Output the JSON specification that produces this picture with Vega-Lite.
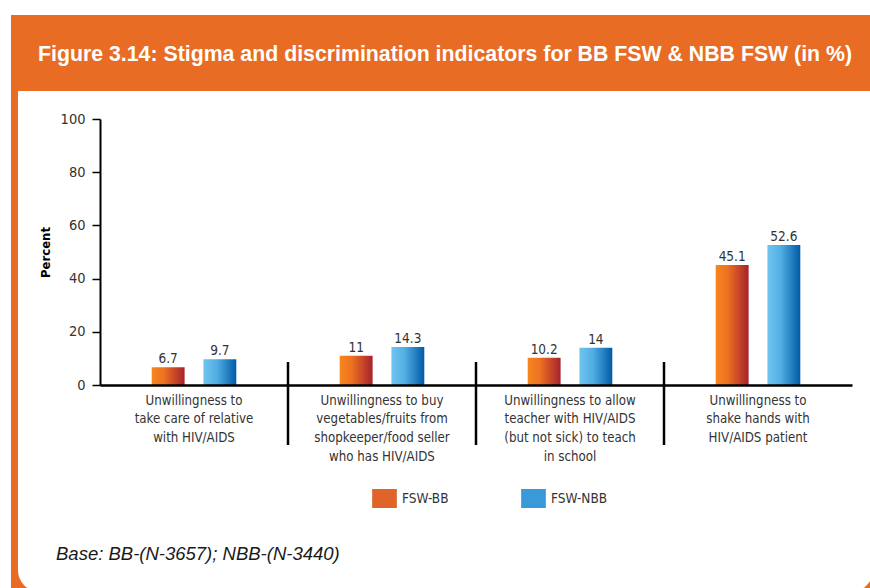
{
  "$schema": "https://vega.github.io/schema/vega-lite/v6.json",
  "width": 752,
  "height": 266,
  "autosize": {"type": "none"},
  "padding": {"left": 100, "top": 119, "right": 18, "bottom": 203},
  "background": "white",
  "config": {
    "view": {"stroke": null},
    "axis": {"zindex": 1},
    "font": "DejaVu Sans Condensed"
  },
  "datasets": {
    "bars": [
      {"category": "Unwillingness to|take care of relative|with HIV/AIDS", "series": "FSW-BB", "value": 6.7},
      {"category": "Unwillingness to|take care of relative|with HIV/AIDS", "series": "FSW-NBB", "value": 9.7},
      {"category": "Unwillingness to buy|vegetables/fruits from|shopkeeper/food seller|who has HIV/AIDS", "series": "FSW-BB", "value": 11},
      {"category": "Unwillingness to buy|vegetables/fruits from|shopkeeper/food seller|who has HIV/AIDS", "series": "FSW-NBB", "value": 14.3},
      {"category": "Unwillingness to allow|teacher with HIV/AIDS|(but not sick) to teach|in school", "series": "FSW-BB", "value": 10.2},
      {"category": "Unwillingness to allow|teacher with HIV/AIDS|(but not sick) to teach|in school", "series": "FSW-NBB", "value": 14},
      {"category": "Unwillingness to|shake hands with|HIV/AIDS patient", "series": "FSW-BB", "value": 45.1},
      {"category": "Unwillingness to|shake hands with|HIV/AIDS patient", "series": "FSW-NBB", "value": 52.6}
    ],
    "texts": [
      {"title": "Figure 3.14: Stigma and discrimination indicators for BB FSW & NBB FSW (in %)", "note": "Base: BB-(N-3657); NBB-(N-3440)"}
    ]
  },
  "layer": [
    {
      "data": {"name": "texts"},
      "layer": [
        {
          "mark": {"type": "rect", "fill": "#E86C24"},
          "encoding": {
            "x": {"datum": -11.835, "type": "quantitative", "scale": {"domain": [0, 100], "zero": false, "nice": false}, "axis": null},
            "x2": {"datum": 105},
            "y": {"datum": 139.1, "type": "quantitative", "scale": {"domain": [0, 100], "zero": false, "nice": false}, "axis": null},
            "y2": {"datum": 110.53}
          }
        },
        {
          "mark": {"type": "rect", "fill": "#E86C24"},
          "encoding": {
            "x": {"datum": -11.835, "type": "quantitative"},
            "x2": {"datum": -10.904},
            "y": {"datum": 110.6, "type": "quantitative"},
            "y2": {"datum": -85}
          }
        },
        {
          "mark": {"type": "rect", "fill": "#E86C24"},
          "encoding": {
            "x": {"datum": -11.835, "type": "quantitative"},
            "x2": {"datum": -7.314},
            "y": {"datum": -65.79, "type": "quantitative"},
            "y2": {"datum": -85}
          }
        },
        {
          "mark": {"type": "rect", "fill": "#E86C24"},
          "encoding": {
            "x": {"datum": 98.4, "type": "quantitative"},
            "x2": {"datum": 105},
            "y": {"datum": -65.79, "type": "quantitative"},
            "y2": {"datum": -85}
          }
        },
        {
          "mark": {"type": "rect", "fill": "white", "cornerRadiusBottomLeft": 22},
          "encoding": {
            "x": {"datum": -10.904, "type": "quantitative"},
            "x2": {"datum": -3.989},
            "y": {"datum": -58.27, "type": "quantitative"},
            "y2": {"datum": -77.82}
          }
        },
        {
          "mark": {"type": "rect", "fill": "white", "cornerRadiusBottomRight": 22},
          "encoding": {
            "x": {"datum": 93.09, "type": "quantitative"},
            "x2": {"datum": 102.79},
            "y": {"datum": -58.27, "type": "quantitative"},
            "y2": {"datum": -77.82}
          }
        },
        {
          "mark": {"type": "text", "align": "left", "baseline": "alphabetic", "font": "Liberation Sans", "fontWeight": "bold", "fontSize": 21.3, "color": "white"},
          "encoding": {
            "x": {"datum": -8.245, "type": "quantitative"},
            "y": {"datum": 121.9, "type": "quantitative"},
            "text": {"field": "title"}
          }
        },
        {
          "mark": {"type": "text", "align": "left", "baseline": "alphabetic", "font": "Liberation Sans", "fontStyle": "italic", "fontSize": 18.5, "color": "#1a1a1a"},
          "encoding": {
            "x": {"datum": -5.851, "type": "quantitative"},
            "y": {"datum": -65.79, "type": "quantitative"},
            "text": {"field": "note"}
          }
        }
      ]
    },
    {
      "data": {"name": "bars"},
      "layer": [
        {
          "mark": {"type": "bar", "opacity": 0},
          "encoding": {
            "x": {
              "field": "category", "type": "nominal", "sort": null,
              "scale": {"paddingInner": 0, "paddingOuter": 0},
              "axis": {
                "orient": "bottom", "zindex": 1,
                "title": null, "labelExpr": "split(datum.label, '|')", "labelAngle": 0,
                "labelFont": "DejaVu Sans Condensed", "labelFontSize": 13.2, "labelColor": "#333333",
                "labelLineHeight": 18.7, "labelPadding": 9, "labelLimit": 0, "ticks": false,
                "domainColor": "#000000", "domainWidth": 2.5, "labelBaseline": "top"
              }
            },
            "xOffset": {"field": "series", "type": "nominal", "sort": null, "scale": {"domain": ["FSW-BB", "FSW-NBB"], "paddingInner": 0.3636, "paddingOuter": 2.03}},
            "y": {
              "field": "value", "type": "quantitative",
              "scale": {"domain": [0, 100], "nice": false},
              "axis": {
                "orient": "left", "zindex": 1,
                "values": [0, 20, 40, 60, 80, 100], "title": "Percent",
                "titleFont": "DejaVu Sans Condensed", "titleFontWeight": "bold", "titleFontSize": 13, "titleColor": "#000000", "titlePadding": 8,
                "labelFont": "DejaVu Sans Condensed", "labelFontSize": 14.5, "labelColor": "#333333", "labelPadding": 7,
                "tickSize": 8, "tickColor": "#000000", "tickWidth": 1.5, "domainColor": "#000000", "domainWidth": 2, "grid": false
              }
            },
            "color": {
              "field": "series", "type": "nominal",
              "scale": {"domain": ["FSW-BB", "FSW-NBB"], "range": ["#E0642A", "#3A9AD9"]},
              "legend": {
                "orient": "none", "legendX": 275, "legendY": 370, "direction": "horizontal", "title": null,
                "symbolType": "M-1.3,-1L1.3,-1L1.3,1L-1.3,1Z", "symbolSize": 361, "symbolStrokeWidth": 0, "symbolOpacity": 1,
                "labelFont": "DejaVu Sans Condensed", "labelFontSize": 13.5, "labelColor": "#333333", "labelOffset": 8,
                "columnPadding": 72, "padding": 0
              }
            }
          }
        },
        {
          "transform": [{"filter": "datum.series == 'FSW-BB'"}],
          "mark": {"type": "bar", "color": {"gradient": "linear", "x1": 0, "y1": 0, "x2": 1, "y2": 0, "stops": [{"offset": 0, "color": "#F7861F"}, {"offset": 0.35, "color": "#EE7322"}, {"offset": 1, "color": "#A6222C"}]}},
          "encoding": {
            "x": {"field": "category", "type": "nominal", "sort": null},
            "xOffset": {"field": "series", "type": "nominal", "sort": null},
            "y": {"field": "value", "type": "quantitative"}
          }
        },
        {
          "transform": [{"filter": "datum.series == 'FSW-NBB'"}],
          "mark": {"type": "bar", "color": {"gradient": "linear", "x1": 0, "y1": 0, "x2": 1, "y2": 0, "stops": [{"offset": 0, "color": "#70C5EF"}, {"offset": 0.4, "color": "#52AFE3"}, {"offset": 1, "color": "#005BA6"}]}},
          "encoding": {
            "x": {"field": "category", "type": "nominal", "sort": null},
            "xOffset": {"field": "series", "type": "nominal", "sort": null},
            "y": {"field": "value", "type": "quantitative"}
          }
        },
        {
          "mark": {"type": "text", "baseline": "alphabetic", "dy": -4, "fontSize": 13.5, "font": "DejaVu Sans Condensed", "color": "#333333"},
          "encoding": {
            "x": {"field": "category", "type": "nominal", "sort": null},
            "xOffset": {"field": "series", "type": "nominal", "sort": null},
            "y": {"field": "value", "type": "quantitative"},
            "text": {"field": "value", "type": "quantitative"}
          }
        },
        {
          "transform": [
            {"filter": "datum.series == 'FSW-BB' && datum.category != 'Unwillingness to|take care of relative|with HIV/AIDS'"}
          ],
          "mark": {"type": "rule", "color": "#000000", "strokeWidth": 2.5},
          "encoding": {
            "x": {"field": "category", "type": "nominal", "sort": null, "bandPosition": 0},
            "y": {"datum": 8.65},
            "y2": {"datum": -22.56}
          }
        }
      ]
    }
  ],
  "resolve": {"scale": {"x": "independent", "y": "independent"}}
}
